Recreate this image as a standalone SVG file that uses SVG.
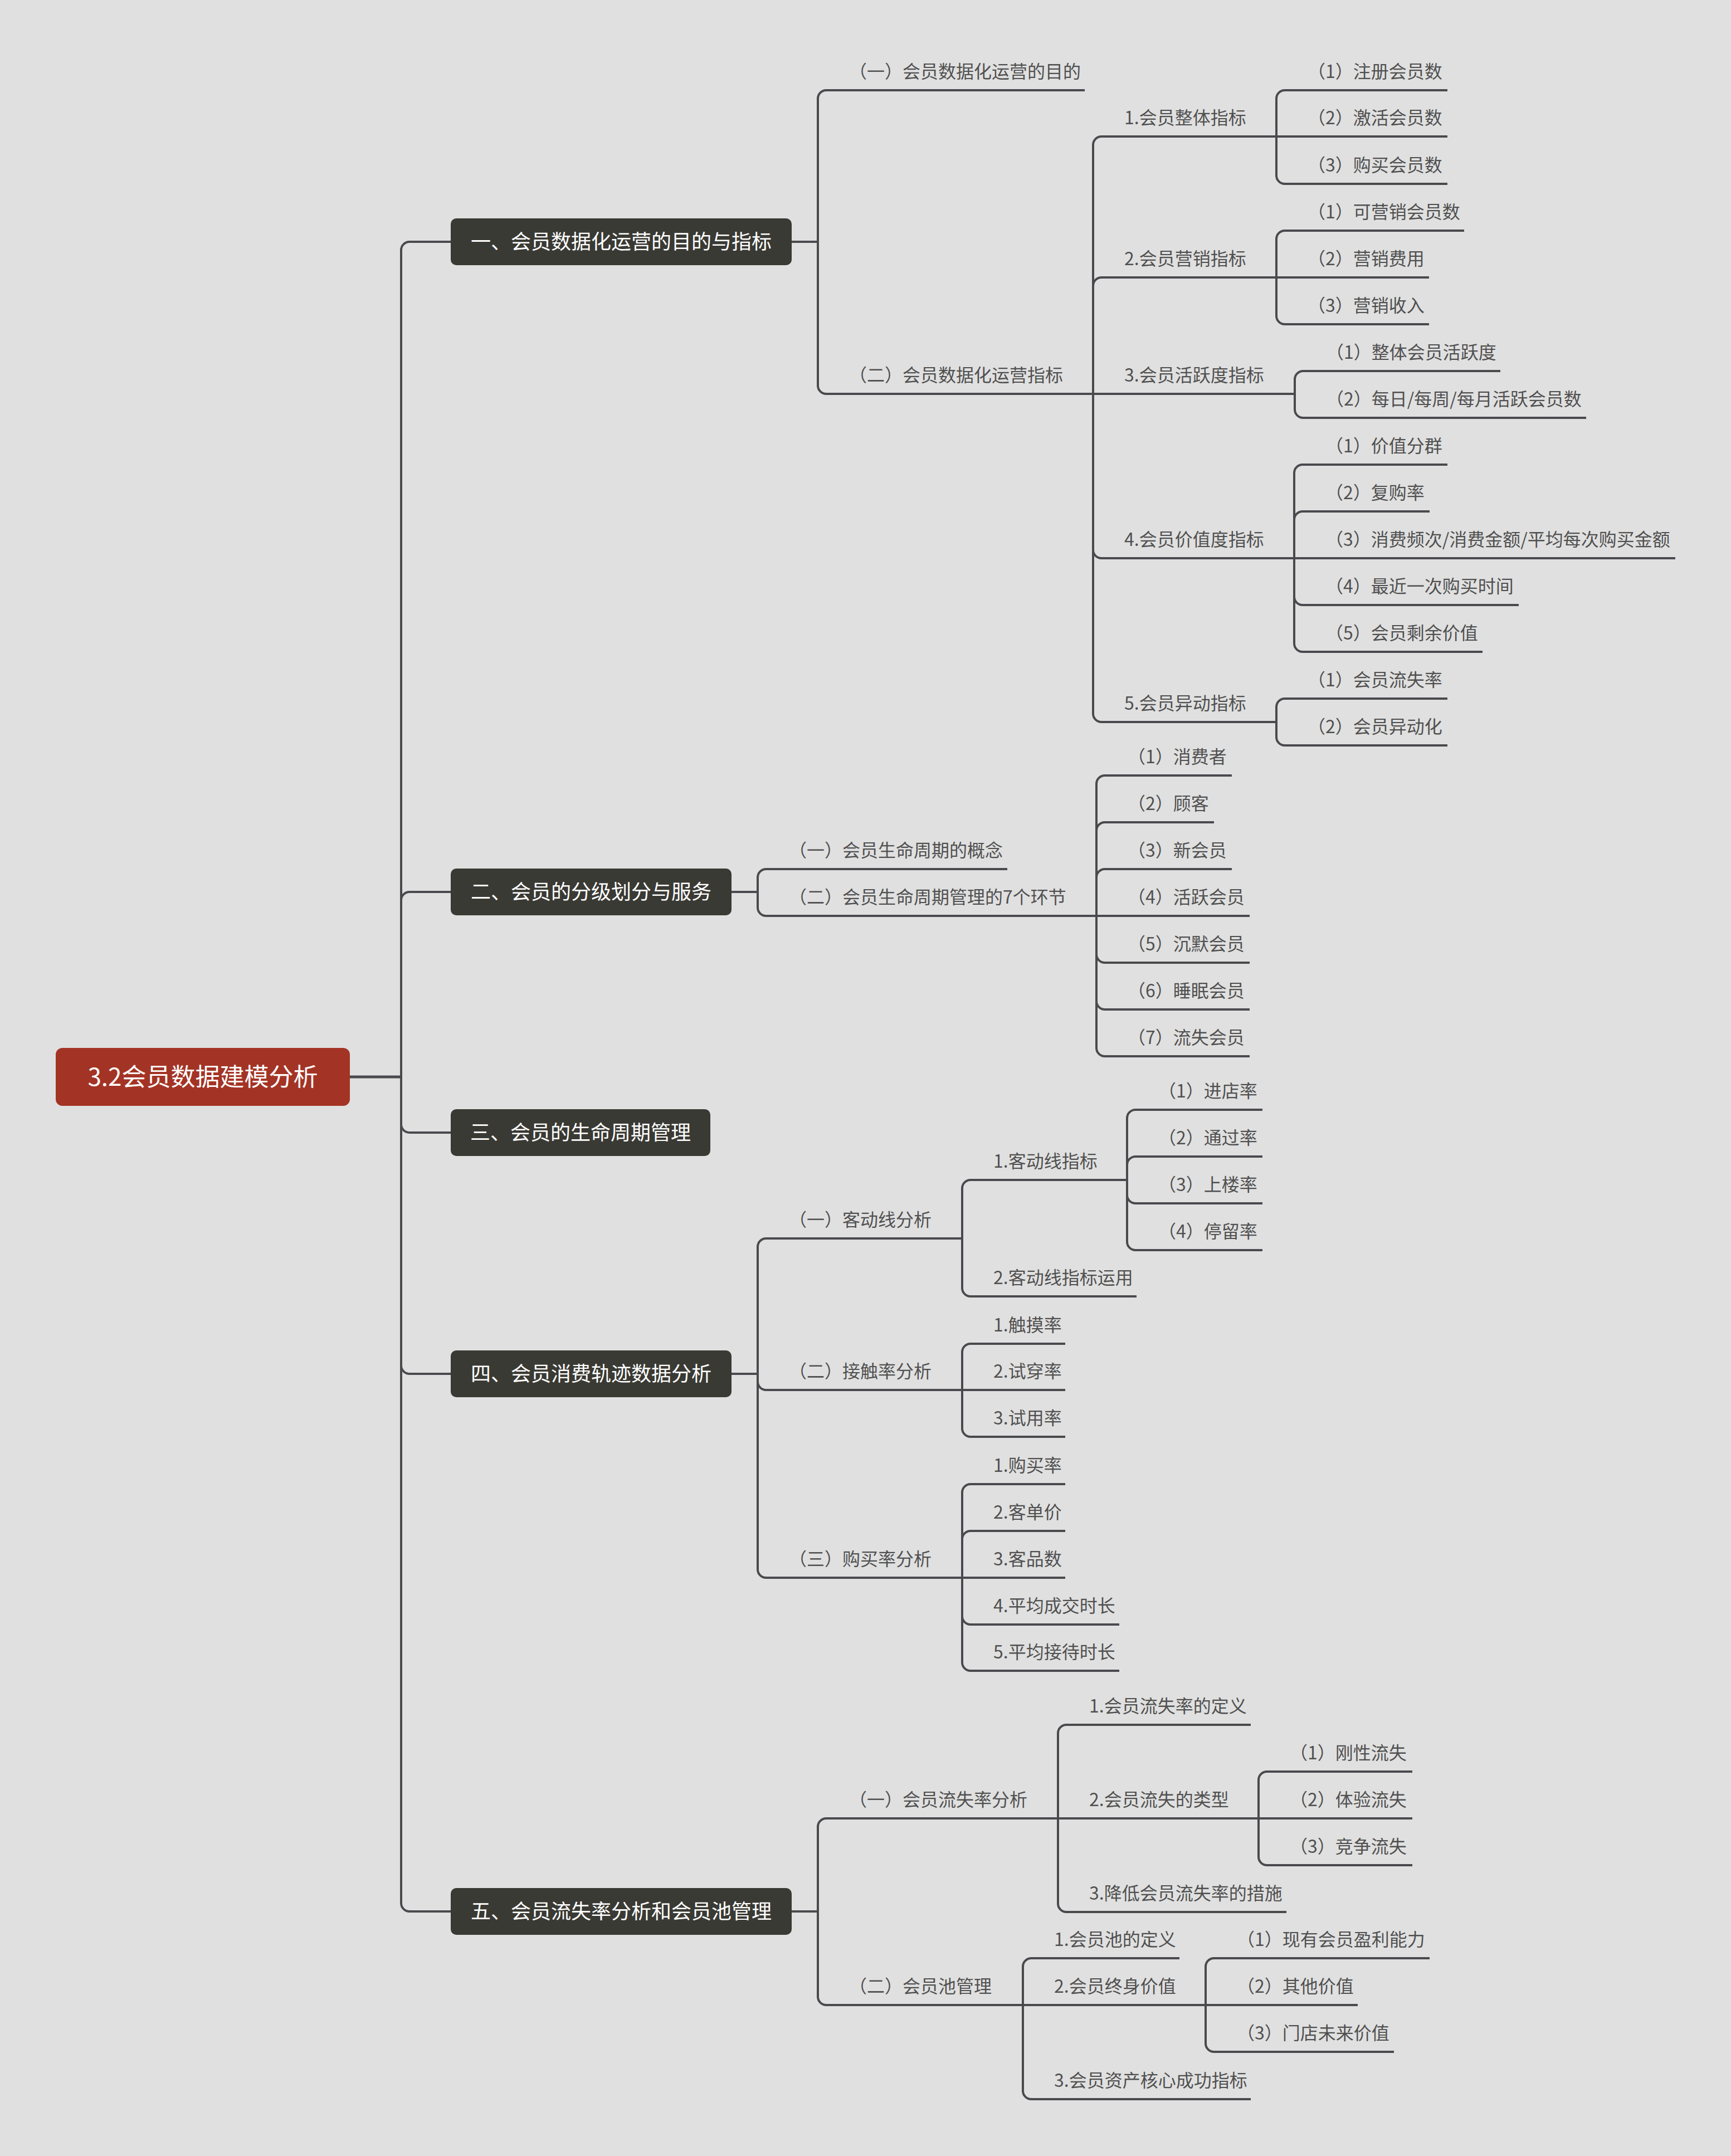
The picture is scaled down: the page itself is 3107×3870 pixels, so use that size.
<svg xmlns="http://www.w3.org/2000/svg" width="3107" height="3870" viewBox="0 0 3107 3870">
<style>
.bg{fill:#e0e0e0}
.ln{fill:none;stroke:#4a4a4e;stroke-width:4}
.rl{fill:none;stroke:#4a4a4e;stroke-width:5}
text{font-family:"Noto Sans CJK SC","Noto Sans",sans-serif}
.t{font-size:32px;fill:#505050}
.n1 rect{fill:#3a3a34}
.n1 text{font-size:36px;fill:#ffffff;text-anchor:middle}
.root rect{fill:#a33425}
.root text{font-size:44px;fill:#ffffff;text-anchor:middle}
</style>
<rect class="bg" x="0" y="0" width="3107" height="3870"/>
<g id="connectors">
<path class="rl" d="M628,1933 H720"/>
<path class="ln" d="M720,1933 V449 A15 15 0 0 1 735,434 H809"/>
<path class="ln" d="M720,1933 V1616 A15 15 0 0 1 735,1601 H809"/>
<path class="ln" d="M720,1933 V2018 A15 15 0 0 0 735,2033 H809"/>
<path class="ln" d="M720,1933 V2451 A15 15 0 0 0 735,2466 H809"/>
<path class="ln" d="M720,1933 V3416 A15 15 0 0 0 735,3431 H809"/>
<!-- group 1 -->
<path class="ln" d="M1421,434 H1468"/>
<path class="ln" d="M1468,434 V177 A15 15 0 0 1 1483,162 H1947"/>
<path class="ln" d="M1468,434 V692 A15 15 0 0 0 1483,707 H1962"/>
<path class="ln" d="M1962,707 V260 A15 15 0 0 1 1977,245 H2291"/>
<path class="ln" d="M1962,707 V513 A15 15 0 0 1 1977,498 H2291"/>
<path class="ln" d="M1962,707 H2324"/>
<path class="ln" d="M1962,707 V987 A15 15 0 0 0 1977,1002 H2323"/>
<path class="ln" d="M1962,707 V1281 A15 15 0 0 0 1977,1296 H2291"/>
<path class="ln" d="M2291,245 V177 A15 15 0 0 1 2306,162 H2598"/>
<path class="ln" d="M2291,245 H2598"/>
<path class="ln" d="M2291,245 V315 A15 15 0 0 0 2306,330 H2598"/>
<path class="ln" d="M2291,498 V429 A15 15 0 0 1 2306,414 H2628"/>
<path class="ln" d="M2291,498 H2565"/>
<path class="ln" d="M2291,498 V567 A15 15 0 0 0 2306,582 H2565"/>
<path class="ln" d="M2324,707 V681 A15 15 0 0 1 2339,666 H2693"/>
<path class="ln" d="M2324,707 V735 A15 15 0 0 0 2339,750 H2847"/>
<path class="ln" d="M2323,1002 V849 A15 15 0 0 1 2338,834 H2598"/>
<path class="ln" d="M2323,1002 V933 A15 15 0 0 1 2338,918 H2566"/>
<path class="ln" d="M2323,1002 H3007"/>
<path class="ln" d="M2323,1002 V1071 A15 15 0 0 0 2338,1086 H2726"/>
<path class="ln" d="M2323,1002 V1155 A15 15 0 0 0 2338,1170 H2661"/>
<path class="ln" d="M2291,1296 V1269 A15 15 0 0 1 2306,1254 H2598"/>
<path class="ln" d="M2291,1296 V1323 A15 15 0 0 0 2306,1338 H2598"/>
<!-- group 2 -->
<path class="ln" d="M1313,1601 H1360"/>
<path class="ln" d="M1360,1601 V1575 A15 15 0 0 1 1375,1560 H1808"/>
<path class="ln" d="M1360,1601 V1629 A15 15 0 0 0 1375,1644 H1968"/>
<path class="ln" d="M1968,1644 V1407 A15 15 0 0 1 1983,1392 H2211"/>
<path class="ln" d="M1968,1644 V1491 A15 15 0 0 1 1983,1476 H2179"/>
<path class="ln" d="M1968,1644 V1575 A15 15 0 0 1 1983,1560 H2211"/>
<path class="ln" d="M1968,1644 H2243"/>
<path class="ln" d="M1968,1644 V1713 A15 15 0 0 0 1983,1728 H2243"/>
<path class="ln" d="M1968,1644 V1797 A15 15 0 0 0 1983,1812 H2243"/>
<path class="ln" d="M1968,1644 V1881 A15 15 0 0 0 1983,1896 H2243"/>
<!-- group 4 -->
<path class="ln" d="M1313,2466 H1360"/>
<path class="ln" d="M1360,2466 V2238 A15 15 0 0 1 1375,2223 H1727"/>
<path class="ln" d="M1360,2466 V2480 A15 15 0 0 0 1375,2495 H1727"/>
<path class="ln" d="M1360,2466 V2817 A15 15 0 0 0 1375,2832 H1727"/>
<path class="ln" d="M1727,2223 V2133 A15 15 0 0 1 1742,2118 H2023"/>
<path class="ln" d="M1727,2223 V2312 A15 15 0 0 0 1742,2327 H2040"/>
<path class="ln" d="M2023,2118 V2007 A15 15 0 0 1 2038,1992 H2266"/>
<path class="ln" d="M2023,2118 V2091 A15 15 0 0 1 2038,2076 H2266"/>
<path class="ln" d="M2023,2118 V2145 A15 15 0 0 0 2038,2160 H2266"/>
<path class="ln" d="M2023,2118 V2229 A15 15 0 0 0 2038,2244 H2266"/>
<path class="ln" d="M1727,2495 V2427 A15 15 0 0 1 1742,2412 H1912"/>
<path class="ln" d="M1727,2495 H1912"/>
<path class="ln" d="M1727,2495 V2564 A15 15 0 0 0 1742,2579 H1912"/>
<path class="ln" d="M1727,2832 V2679 A15 15 0 0 1 1742,2664 H1912"/>
<path class="ln" d="M1727,2832 V2763 A15 15 0 0 1 1742,2748 H1912"/>
<path class="ln" d="M1727,2832 H1912"/>
<path class="ln" d="M1727,2832 V2901 A15 15 0 0 0 1742,2916 H2009"/>
<path class="ln" d="M1727,2832 V2984 A15 15 0 0 0 1742,2999 H2009"/>
<!-- group 5 -->
<path class="ln" d="M1421,3431 H1468"/>
<path class="ln" d="M1468,3431 V3279 A15 15 0 0 1 1483,3264 H1899"/>
<path class="ln" d="M1468,3431 V3584 A15 15 0 0 0 1483,3599 H1836"/>
<path class="ln" d="M1899,3264 V3111 A15 15 0 0 1 1914,3096 H2245"/>
<path class="ln" d="M1899,3264 H2259"/>
<path class="ln" d="M1899,3264 V3417 A15 15 0 0 0 1914,3432 H2309"/>
<path class="ln" d="M2259,3264 V3195 A15 15 0 0 1 2274,3180 H2535"/>
<path class="ln" d="M2259,3264 H2535"/>
<path class="ln" d="M2259,3264 V3333 A15 15 0 0 0 2274,3348 H2535"/>
<path class="ln" d="M1836,3599 V3530 A15 15 0 0 1 1851,3515 H2117"/>
<path class="ln" d="M1836,3599 H2164"/>
<path class="ln" d="M1836,3599 V3753 A15 15 0 0 0 1851,3768 H2245"/>
<path class="ln" d="M2164,3599 V3530 A15 15 0 0 1 2179,3515 H2566"/>
<path class="ln" d="M2164,3599 H2437"/>
<path class="ln" d="M2164,3599 V3668 A15 15 0 0 0 2179,3683 H2502"/>
</g>
<g id="root" class="root"><rect x="100" y="1881" width="528" height="104" rx="12"/><text x="364" y="1949">3.2会员数据建模分析</text></g>
<g id="n1" class="n1"><rect x="809" y="392" width="612" height="84" rx="10"/><text x="1115" y="447">一、会员数据化运营的目的与指标</text></g>
<g id="n2" class="n1"><rect x="809" y="1559" width="504" height="84" rx="10"/><text x="1061" y="1614">二、会员的分级划分与服务</text></g>
<g id="n3" class="n1"><rect x="809" y="1991" width="466" height="84" rx="10"/><text x="1042" y="2046">三、会员的生命周期管理</text></g>
<g id="n4" class="n1"><rect x="809" y="2424" width="504" height="84" rx="10"/><text x="1061" y="2479">四、会员消费轨迹数据分析</text></g>
<g id="n5" class="n1"><rect x="809" y="3389" width="612" height="84" rx="10"/><text x="1115" y="3444">五、会员流失率分析和会员池管理</text></g>
<g id="g1-labels" class="t">
<g id="n1-1"><text x="1524" y="140">（一）会员数据化运营的目的</text></g>
<g id="n1-2"><text x="1524" y="685">（二）会员数据化运营指标</text></g>
<g id="n1-2-1"><text x="2018" y="223">1.会员整体指标</text></g>
<g id="n1-2-2"><text x="2018" y="476">2.会员营销指标</text></g>
<g id="n1-2-3"><text x="2018" y="685">3.会员活跃度指标</text></g>
<g id="n1-2-4"><text x="2018" y="980">4.会员价值度指标</text></g>
<g id="n1-2-5"><text x="2018" y="1274">5.会员异动指标</text></g>
<g id="n1-2-1-1"><text x="2347" y="140">（1）注册会员数</text></g>
<g id="n1-2-1-2"><text x="2347" y="223">（2）激活会员数</text></g>
<g id="n1-2-1-3"><text x="2347" y="308">（3）购买会员数</text></g>
<g id="n1-2-2-1"><text x="2347" y="392">（1）可营销会员数</text></g>
<g id="n1-2-2-2"><text x="2347" y="476">（2）营销费用</text></g>
<g id="n1-2-2-3"><text x="2347" y="560">（3）营销收入</text></g>
<g id="n1-2-3-1"><text x="2380" y="644">（1）整体会员活跃度</text></g>
<g id="n1-2-3-2"><text x="2380" y="728">（2）每日/每周/每月活跃会员数</text></g>
<g id="n1-2-4-1"><text x="2379" y="812">（1）价值分群</text></g>
<g id="n1-2-4-2"><text x="2379" y="896">（2）复购率</text></g>
<g id="n1-2-4-3"><text x="2379" y="980">（3）消费频次/消费金额/平均每次购买金额</text></g>
<g id="n1-2-4-4"><text x="2379" y="1064">（4）最近一次购买时间</text></g>
<g id="n1-2-4-5"><text x="2379" y="1148">（5）会员剩余价值</text></g>
<g id="n1-2-5-1"><text x="2347" y="1232">（1）会员流失率</text></g>
<g id="n1-2-5-2"><text x="2347" y="1316">（2）会员异动化</text></g>
</g>
<g id="g2-labels" class="t">
<g id="n2-1"><text x="1416" y="1538">（一）会员生命周期的概念</text></g>
<g id="n2-2"><text x="1416" y="1622">（二）会员生命周期管理的7个环节</text></g>
<g id="n2-2-1"><text x="2024" y="1370">（1）消费者</text></g>
<g id="n2-2-2"><text x="2024" y="1454">（2）顾客</text></g>
<g id="n2-2-3"><text x="2024" y="1538">（3）新会员</text></g>
<g id="n2-2-4"><text x="2024" y="1622">（4）活跃会员</text></g>
<g id="n2-2-5"><text x="2024" y="1706">（5）沉默会员</text></g>
<g id="n2-2-6"><text x="2024" y="1790">（6）睡眠会员</text></g>
<g id="n2-2-7"><text x="2024" y="1874">（7）流失会员</text></g>
</g>
<g id="g4-labels" class="t">
<g id="n4-1"><text x="1416" y="2201">（一）客动线分析</text></g>
<g id="n4-2"><text x="1416" y="2473">（二）接触率分析</text></g>
<g id="n4-3"><text x="1416" y="2810">（三）购买率分析</text></g>
<g id="n4-1-1"><text x="1783" y="2096">1.客动线指标</text></g>
<g id="n4-1-2"><text x="1783" y="2305">2.客动线指标运用</text></g>
<g id="n4-1-1-1"><text x="2079" y="1970">（1）进店率</text></g>
<g id="n4-1-1-2"><text x="2079" y="2054">（2）通过率</text></g>
<g id="n4-1-1-3"><text x="2079" y="2138">（3）上楼率</text></g>
<g id="n4-1-1-4"><text x="2079" y="2222">（4）停留率</text></g>
<g id="n4-2-1"><text x="1783" y="2390">1.触摸率</text></g>
<g id="n4-2-2"><text x="1783" y="2473">2.试穿率</text></g>
<g id="n4-2-3"><text x="1783" y="2557">3.试用率</text></g>
<g id="n4-3-1"><text x="1783" y="2642">1.购买率</text></g>
<g id="n4-3-2"><text x="1783" y="2726">2.客单价</text></g>
<g id="n4-3-3"><text x="1783" y="2810">3.客品数</text></g>
<g id="n4-3-4"><text x="1783" y="2894">4.平均成交时长</text></g>
<g id="n4-3-5"><text x="1783" y="2977">5.平均接待时长</text></g>
</g>
<g id="g5-labels" class="t">
<g id="n5-1"><text x="1524" y="3242">（一）会员流失率分析</text></g>
<g id="n5-2"><text x="1524" y="3577">（二）会员池管理</text></g>
<g id="n5-1-1"><text x="1955" y="3074">1.会员流失率的定义</text></g>
<g id="n5-1-2"><text x="1955" y="3242">2.会员流失的类型</text></g>
<g id="n5-1-3"><text x="1955" y="3410">3.降低会员流失率的措施</text></g>
<g id="n5-1-2-1"><text x="2315" y="3158">（1）刚性流失</text></g>
<g id="n5-1-2-2"><text x="2315" y="3242">（2）体验流失</text></g>
<g id="n5-1-2-3"><text x="2315" y="3326">（3）竞争流失</text></g>
<g id="n5-2-1"><text x="1892" y="3493">1.会员池的定义</text></g>
<g id="n5-2-2"><text x="1892" y="3577">2.会员终身价值</text></g>
<g id="n5-2-3"><text x="1892" y="3746">3.会员资产核心成功指标</text></g>
<g id="n5-2-2-1"><text x="2220" y="3493">（1）现有会员盈利能力</text></g>
<g id="n5-2-2-2"><text x="2220" y="3577">（2）其他价值</text></g>
<g id="n5-2-2-3"><text x="2220" y="3661">（3）门店未来价值</text></g>
</g>
</svg>
